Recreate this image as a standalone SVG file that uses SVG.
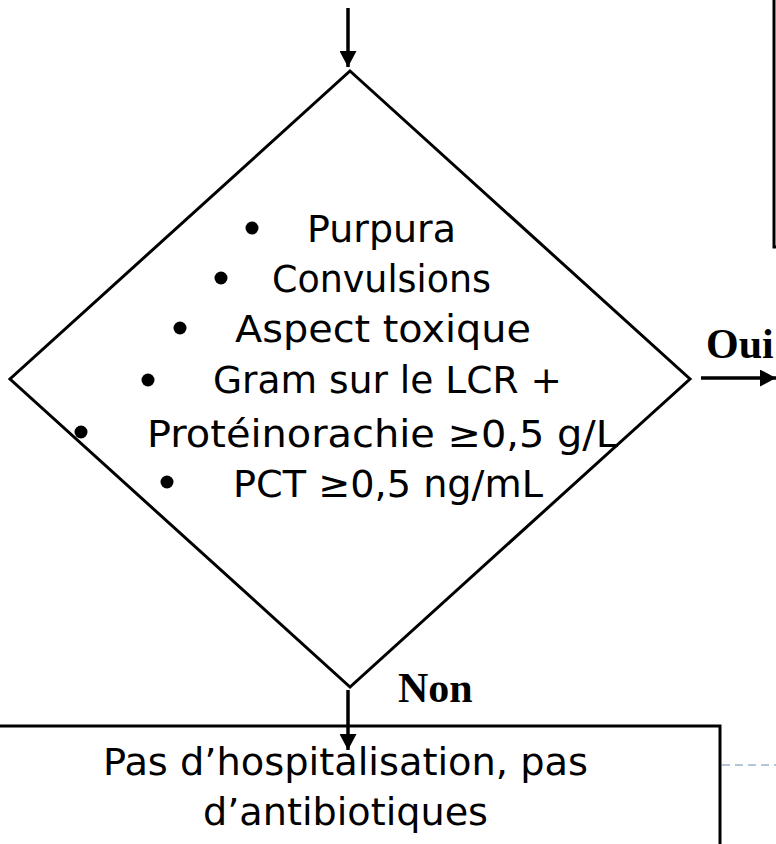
<svg xmlns="http://www.w3.org/2000/svg" width="776" height="844" viewBox="0 0 776 844">
<style>
.shape{fill:none;stroke:#000;stroke-width:3}
.conn{stroke:#000;stroke-width:3.5;fill:none}
.t{font-family:"DejaVu Sans","Liberation Sans",sans-serif;font-size:37px;fill:#000}
.lbl{font-family:"Liberation Serif","Times New Roman",serif;font-size:42px;font-weight:bold;fill:#000}
.dot{fill:#000}
</style>
<defs>
<marker id="ah" viewBox="0 0 16 17" refX="16" refY="8.5" markerWidth="16" markerHeight="17" markerUnits="userSpaceOnUse" orient="auto">
<path d="M0,0 L16,8.5 L0,17 Z" fill="#000"/>
</marker>
</defs>
<g id="box-top-right">
<rect class="shape" x="774" y="-10" width="100" height="257"/>
</g>
<g id="decision">
<polygon class="shape" points="350,71 690,379 350,687 10,379"/>
<circle class="dot" cx="252" cy="228" r="6.5"/>
<text class="t" x="307" y="242" textLength="149" lengthAdjust="spacingAndGlyphs">Purpura</text>
<circle class="dot" cx="221" cy="278" r="6.5"/>
<text class="t" x="272" y="292" textLength="219" lengthAdjust="spacingAndGlyphs">Convulsions</text>
<circle class="dot" cx="180" cy="328" r="6.5"/>
<text class="t" x="235" y="342" textLength="296" lengthAdjust="spacingAndGlyphs">Aspect toxique</text>
<circle class="dot" cx="148" cy="380" r="6.5"/>
<text class="t" x="213" y="393" textLength="349" lengthAdjust="spacingAndGlyphs">Gram sur le LCR +</text>
<circle class="dot" cx="81" cy="432" r="6.5"/>
<text class="t" x="147" y="447" textLength="471" lengthAdjust="spacingAndGlyphs">Protéinorachie ≥0,5 g/L</text>
<circle class="dot" cx="167" cy="482" r="6.5"/>
<text class="t" x="233" y="497" textLength="310" lengthAdjust="spacingAndGlyphs">PCT ≥0,5 ng/mL</text>
</g>
<g id="box-bottom">
<rect class="shape" x="-30" y="726" width="750" height="200"/>
<text class="t" x="103" y="775" textLength="485" lengthAdjust="spacingAndGlyphs">Pas d’hospitalisation, pas</text>
<text class="t" x="203" y="825" textLength="285" lengthAdjust="spacingAndGlyphs">d’antibiotiques</text>
</g>
<g id="connectors">
<line class="conn" x1="348" y1="8" x2="348" y2="67" marker-end="url(#ah)"/>
<line class="conn" x1="701" y1="378" x2="776" y2="378" marker-end="url(#ah)"/>
<line class="conn" x1="348" y1="690" x2="348" y2="750" marker-end="url(#ah)"/>
<line x1="722" y1="765" x2="776" y2="765" stroke="#9fb3c8" stroke-width="1.5" stroke-dasharray="8 5"/>
</g>
<g id="labels">
<text class="lbl" x="706" y="358">Oui</text>
<text class="lbl" x="398" y="702">Non</text>
</g>
</svg>
